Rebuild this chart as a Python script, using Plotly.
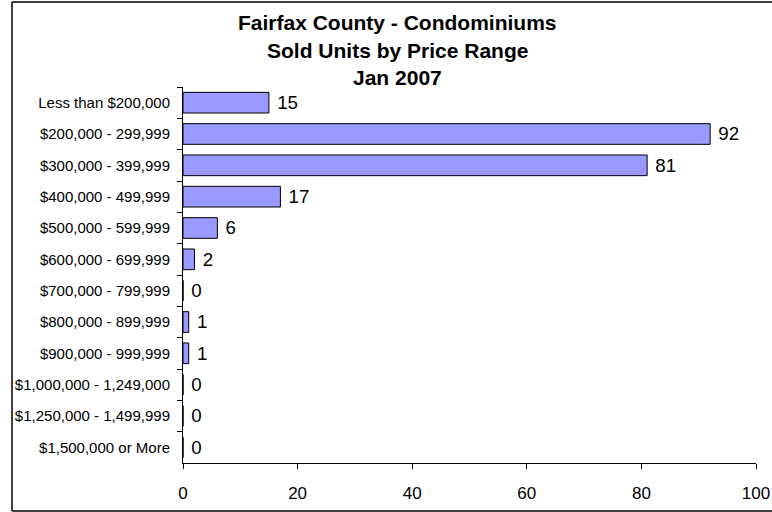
import plotly.graph_objects as go

price_ranges = [
    "Less than $200,000",
    "$200,000 - 299,999",
    "$300,000 - 399,999",
    "$400,000 - 499,999",
    "$500,000 - 599,999",
    "$600,000 - 699,999",
    "$700,000 - 799,999",
    "$800,000 - 899,999",
    "$900,000 - 999,999",
    "$1,000,000 - 1,249,000",
    "$1,250,000 - 1,499,999",
    "$1,500,000 or More",
]
units_sold = [15, 92, 81, 17, 6, 2, 0, 1, 1, 0, 0, 0]
x_ticks = [0, 20, 40, 60, 80, 100]
title_lines = ["Fairfax County - Condominiums", "Sold Units by Price Range", "Jan 2007"]

font = "Liberation Sans, Arial, sans-serif"

W, H = 772, 512
L, R, T, B = 183, 16, 87, 49
plot_w, plot_h = W - L - R, H - T - B


def px_x(x):
    """Figure pixel x -> paper coordinate."""
    return (x - L) / plot_w


def px_y(y):
    """Figure pixel y (from top) -> paper coordinate."""
    return (H - B - y) / plot_h


fig = go.Figure(
    go.Bar(
        x=units_sold,
        y=price_ranges,
        orientation="h",
        marker=dict(color="#9999ff", line=dict(color="black", width=1)),
        text=[f" {v}" for v in units_sold],
        textposition="outside",
        textfont=dict(size=19, color="black", family=font),
        cliponaxis=False,
    )
)

fig.update_layout(
    width=W,
    height=H,
    margin=dict(l=L, r=R, t=T, b=B, autoexpand=False),
    paper_bgcolor="white",
    plot_bgcolor="white",
    showlegend=False,
    bargap=0.34,
    font=dict(family=font, color="black"),
)

fig.update_xaxes(
    range=[0, 100],
    tickvals=x_ticks,
    showgrid=False,
    zeroline=False,
    showline=True,
    linecolor="black",
    linewidth=1,
    ticks="outside",
    ticklen=5,
    tickcolor="black",
    tickfont=dict(size=17),
    ticklabelstandoff=10,
    automargin=False,
)
fig.update_yaxes(
    autorange="reversed",
    showgrid=False,
    showline=True,
    linecolor="black",
    linewidth=1,
    ticks="outside",
    tickson="boundaries",
    ticklen=5,
    tickcolor="black",
    tickfont=dict(size=15),
    ticklabelstandoff=9,
    automargin=False,
)

# chart frame (the right edge is cropped off in the original)
frame = dict(color="black", width=1.5)
left, right, top, bottom = px_x(12), px_x(W + 5), px_y(2), px_y(H - 1)
for x0, y0, x1, y1 in [(left, top, right, top), (left, top, left, bottom), (left, bottom, right, bottom)]:
    fig.add_shape(type="line", xref="paper", yref="paper", x0=x0, y0=y0, x1=x1, y1=y1, line=frame)

title_y = [22, 50, 78]
for line, ty in zip(title_lines, title_y):
    fig.add_annotation(
        text=f"<b>{line}</b>", xref="paper", yref="paper",
        x=px_x(397), y=px_y(ty),
        showarrow=False, font=dict(size=21), yanchor="middle", xanchor="center",
    )

# drop the default page margin so the figure fills the window exactly
fig.write_html(
    "out.html",
    config={"displayModeBar": False},
    post_script="document.body.style.margin = '0';",
)
